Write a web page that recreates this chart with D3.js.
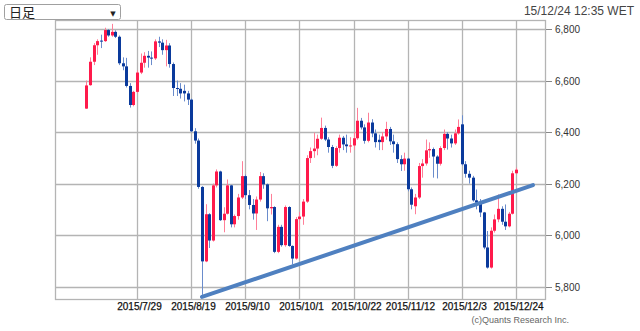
<!DOCTYPE html>
<html><head><meta charset="utf-8">
<script src="https://cdn.jsdelivr.net/npm/d3@7/dist/d3.min.js"></script>
<style>
html,body{margin:0;padding:0;background:#fff;}
svg{display:block;}
</style></head>
<body>
<svg id="c" width="640" height="331"></svg>
<script>
const dates = [
"2015/7/9","2015/7/10","2015/7/13","2015/7/14","2015/7/15","2015/7/16","2015/7/17","2015/7/20","2015/7/21","2015/7/22",
"2015/7/23","2015/7/24","2015/7/27","2015/7/28","2015/7/29","2015/7/30","2015/7/31",
"2015/8/3","2015/8/4","2015/8/5","2015/8/6","2015/8/7","2015/8/10","2015/8/11","2015/8/12","2015/8/13","2015/8/14",
"2015/8/17","2015/8/18","2015/8/19","2015/8/20","2015/8/21","2015/8/24","2015/8/25","2015/8/26","2015/8/27","2015/8/28",
"2015/9/1","2015/9/2","2015/9/3","2015/9/4","2015/9/7","2015/9/8","2015/9/9","2015/9/10","2015/9/11","2015/9/14",
"2015/9/15","2015/9/16","2015/9/17","2015/9/18","2015/9/21","2015/9/22","2015/9/23","2015/9/24","2015/9/25","2015/9/28",
"2015/9/29","2015/9/30",
"2015/10/1","2015/10/2","2015/10/5","2015/10/6","2015/10/7","2015/10/8","2015/10/9","2015/10/12","2015/10/13","2015/10/14",
"2015/10/15","2015/10/16","2015/10/19","2015/10/20","2015/10/21","2015/10/22","2015/10/23","2015/10/26","2015/10/27","2015/10/28",
"2015/10/29","2015/10/30",
"2015/11/2","2015/11/3","2015/11/4","2015/11/5","2015/11/6","2015/11/9","2015/11/10","2015/11/11","2015/11/12","2015/11/13",
"2015/11/16","2015/11/17","2015/11/18","2015/11/19","2015/11/20","2015/11/23","2015/11/24","2015/11/25","2015/11/26","2015/11/27",
"2015/11/30",
"2015/12/1","2015/12/2","2015/12/3","2015/12/4","2015/12/7","2015/12/8","2015/12/9","2015/12/10","2015/12/11","2015/12/14",
"2015/12/15","2015/12/16","2015/12/17","2015/12/18","2015/12/21","2015/12/22","2015/12/23","2015/12/24"];

const open = [
6491,6582,6673,6737,6755,6753,6796,6775,6789,6770,
6667,6655,6579,6505,6556,6631,6669,
6696,6689,6686,6752,6747,6718,6736,6664,6571,6568,
6560,6550,6526,6403,6367,6187,5898,6081,5979,6193,
6247,6058,6083,6193,6042,6074,6146,6229,6155,6117,
6084,6138,6229,6197,6104,6109,5935,6032,5961,6109,
5958,5909,
6062,6072,6130,6299,6326,6336,6374,6416,6371,6342,
6269,6338,6378,6352,6345,6348,6376,6444,6418,6366,
6437,6395,
6370,6361,6383,6412,6364,6353,6295,6275,6297,6178,
6112,6146,6268,6278,6329,6334,6305,6277,6338,6393,
6375,
6356,6395,6430,6275,6238,6223,6135,6126,6088,5952,
5874,6017,6061,6102,6052,6034,6083,6240];

const high = [
6600,6690,6745,6760,6778,6805,6800,6820,6795,6775,
6690,6688,6590,6560,6640,6705,6710,
6715,6713,6760,6770,6760,6758,6745,6670,6600,6590,
6584,6560,6530,6415,6375,6190,6120,6085,6200,6255,
6250,6108,6216,6195,6080,6160,6287,6235,6175,6140,
6150,6245,6240,6200,6160,6112,6040,6040,6115,6112,
5960,6070,
6090,6140,6310,6340,6398,6390,6456,6425,6380,6350,
6345,6390,6385,6390,6380,6400,6494,6455,6430,6475,
6450,6410,
6390,6400,6440,6420,6390,6360,6310,6320,6300,6185,
6160,6280,6295,6371,6360,6340,6310,6345,6410,6400,
6390,
6410,6449,6465,6287,6250,6230,6177,6140,6090,6016,
6030,6080,6158,6112,6119,6090,6250,6262];

const low = [
6490,6580,6660,6700,6726,6750,6770,6770,6765,6660,
6640,6573,6495,6500,6550,6625,6650,
6650,6660,6680,6730,6700,6655,6650,6540,6540,6530,
6519,6505,6400,6355,6180,5768,5895,5950,5975,6185,
6055,6011,6080,6030,6030,6060,6140,6140,6100,6060,
6020,6130,6180,6054,6080,5930,5930,5955,5955,5955,
5886,5905,
6020,6040,6125,6280,6300,6310,6370,6365,6320,6260,
6265,6320,6330,6320,6320,6330,6370,6410,6355,6360,
6380,6340,
6330,6330,6370,6350,6320,6280,6249,6250,6170,6100,
6081,6140,6223,6270,6300,6223,6220,6270,6330,6332,
6340,
6350,6390,6270,6223,6200,6130,6100,6070,5945,5870,
5870,6010,6050,6040,6020,6030,6080,6235];

const close = [
6581,6673,6737,6753,6753,6796,6775,6789,6770,6667,
6655,6579,6505,6556,6631,6669,6696,
6689,6686,6752,6747,6718,6736,6664,6571,6568,6550,
6550,6526,6403,6367,6187,5898,6081,5979,6193,6247,
6058,6083,6193,6042,6074,6146,6229,6155,6117,6084,
6138,6229,6197,6104,6109,5935,6032,5961,6109,5958,
5909,6062,
6072,6130,6299,6326,6336,6374,6416,6371,6342,6269,
6338,6378,6352,6345,6348,6376,6444,6418,6366,6437,
6395,6361,
6361,6383,6412,6364,6353,6295,6275,6297,6178,6118,
6146,6268,6278,6329,6334,6305,6277,6338,6393,6375,
6356,
6395,6420,6275,6238,6223,6135,6126,6088,5952,5874,
6017,6061,6102,6052,6034,6083,6240,6254];

const xTickLabels = ["2015/7/29","2015/8/19","2015/9/10","2015/10/1","2015/10/22","2015/11/12","2015/12/3","2015/12/24"];
const yTicks = [5800,6000,6200,6400,6600,6800];
const trendDates = ["2015/8/24", null];
const trendValues = [5760, 6194];
const trendEndOffset = 4.7; // slots beyond last candle
const title = "日足";
const stamp = "15/12/24 12:35 WET";
const credit = "(c)Quants Research Inc.";

const svg = d3.select("#c");
const L = 55, R = 546, T = 20, B = 299;
const x = d3.scaleLinear().domain([-8.72, 127.31]).range([L, R]);
const y = d3.scaleLinear().domain([5752, 6835]).range([B, T]);

const gridColor = "#b4b4b4";
svg.append("rect").attr("x", L + 0.5).attr("y", T + 0.5).attr("width", R - L - 1).attr("height", B - T)
  .attr("fill", "none").attr("stroke", gridColor).attr("stroke-width", 1.3);

const g = svg.append("g");
yTicks.forEach(v => {
  const yy = Math.round(y(v)) + 0.5;
  g.append("line").attr("x1", L).attr("x2", R).attr("y1", yy).attr("y2", yy)
    .attr("stroke", gridColor).attr("stroke-width", 1.3);
  g.append("line").attr("x1", R).attr("x2", R + 6).attr("y1", yy).attr("y2", yy)
    .attr("stroke", "#888").attr("stroke-width", 1);
  g.append("text").attr("x", R + 9).attr("y", yy + 3.5).text(d3.format(",")(v))
    .attr("font-family", "Liberation Sans, Arial, sans-serif").attr("font-size", 10).attr("fill", "#333");
});

xTickLabels.forEach(lab => {
  const i = dates.indexOf(lab);
  const xx = Math.round(x(i)) + 0.5;
  g.append("line").attr("x1", xx).attr("x2", xx).attr("y1", T).attr("y2", B)
    .attr("stroke", gridColor).attr("stroke-width", 1.3);
  g.append("text").attr("x", xx + 2).attr("y", 310).attr("text-anchor", "middle").text(lab)
    .attr("font-family", "Liberation Sans, Arial, sans-serif").attr("font-size", 10)
    .attr("fill", "#111").attr("stroke", "#111").attr("stroke-width", 0.25);
});

const upBody = "#ff1a4b", upWick = "#ff7f98", dnBody = "#0a3a9c", dnWick = "#6a8ccc";
const cg = svg.append("g");
dates.forEach((d, i) => {
  const o = open[i], h = high[i], l = low[i], c = close[i];
  const up = c >= o;
  const cx = Math.round(x(i));
  cg.append("line").attr("x1", cx + 0.5).attr("x2", cx + 0.5).attr("y1", y(h)).attr("y2", y(l))
    .attr("stroke", up ? upWick : dnWick).attr("stroke-width", 1);
  const top = y(Math.max(o, c)), bot = y(Math.min(o, c));
  cg.append("rect").attr("x", cx - 1).attr("y", top).attr("width", 3).attr("height", Math.max(1, bot - top))
    .attr("fill", up ? upBody : dnBody);
});

const i0 = dates.indexOf(trendDates[0]);
const i1 = dates.length - 1 + trendEndOffset;
svg.append("line").attr("x1", x(i0)).attr("y1", y(trendValues[0])).attr("x2", x(i1)).attr("y2", y(trendValues[1]))
  .attr("stroke", "#4f80c0").attr("stroke-width", 4).attr("stroke-linecap", "round");

svg.append("rect").attr("x", 4.5).attr("y", 4.5).attr("width", 116).attr("height", 15).attr("rx", 2)
  .attr("fill", "#fff").attr("stroke", "#a0a0a0");
svg.append("text").attr("x", 9).attr("y", 16.5).text(title)
  .attr("font-family", "Noto Sans CJK JP, sans-serif").attr("font-size", 13).attr("fill", "#222");
svg.append("text").attr("x", 113).attr("y", 15.5).attr("text-anchor", "middle").text("▼")
  .attr("font-family", "DejaVu Sans, sans-serif").attr("font-size", 7).attr("fill", "#222");

svg.append("text").attr("x", 634).attr("y", 15).attr("text-anchor", "end").text(stamp)
  .attr("font-family", "Liberation Sans, Arial, sans-serif").attr("font-size", 12).attr("fill", "#444");

svg.append("text").attr("x", 569).attr("y", 323).attr("text-anchor", "end").text(credit)
  .attr("font-family", "Liberation Sans, Arial, sans-serif").attr("font-size", 9).attr("fill", "#666");
</script>
</body></html>
